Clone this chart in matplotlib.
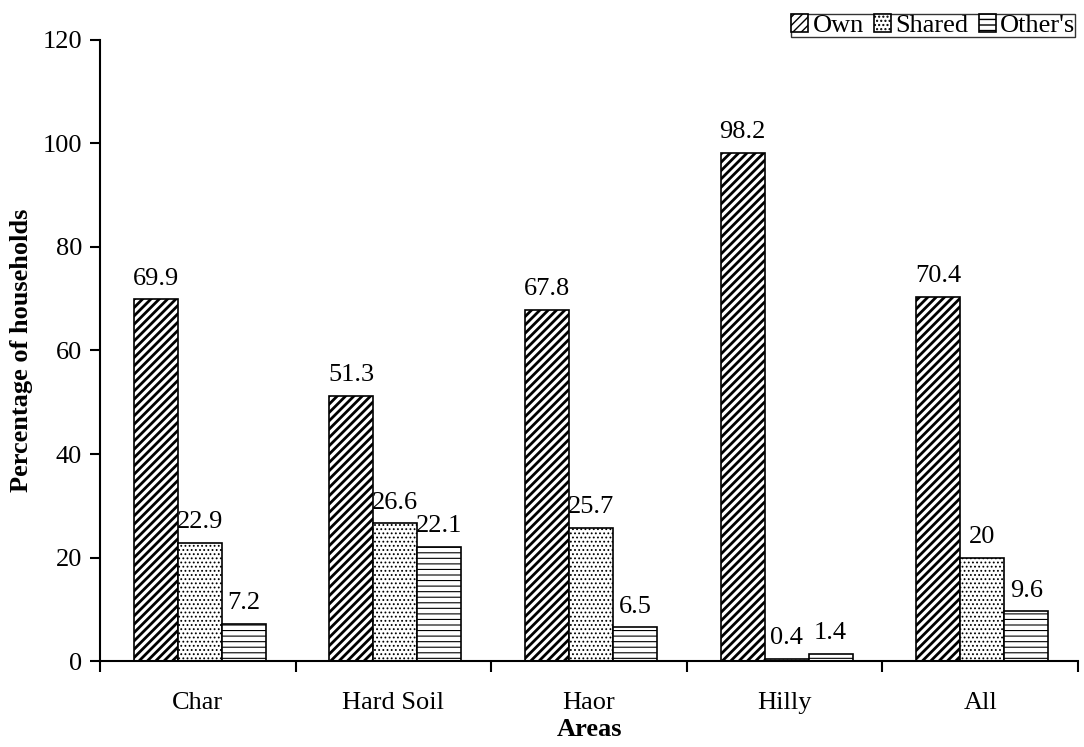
import numpy as np
import matplotlib.pyplot as plt
from matplotlib.ticker import FixedLocator, NullFormatter

plt.rcParams['font.family'] = ['Liberation Serif', 'DejaVu Serif']

# data
areas = ["Char", "Hard Soil", "Haor", "Hilly", "All"]
own = [69.9, 51.3, 67.8, 98.2, 70.4]
shared = [22.9, 26.6, 25.7, 0.4, 20]
others = [7.2, 22.1, 6.5, 1.4, 9.6]
series_names = ["Own", "Shared", "Other's"]

fs = 19

fig = plt.figure(figsize=(10.84, 7.47), dpi=100)
ax = fig.add_axes([0.0923, 0.1151, 0.9022, 0.8314])

x = np.arange(len(areas)) + 0.5
w = 0.225
styles = [("////", 2.0), ("....", 0.8), ("---", 0.8)]

for i, (vals, name) in enumerate(zip([own, shared, others], series_names)):
    hatch, hlw = styles[i]
    with plt.rc_context({'hatch.linewidth': hlw}):
        ax.bar(x + (i - 1) * w + 0.01, vals, w, color="white", edgecolor="black",
               linewidth=1.2, hatch=hatch, label=name)
    for xi, v in zip(x + (i - 1) * w + 0.01, vals):
        ax.annotate(f"{v:g}", (xi, v), xytext=(0, 7), textcoords="offset points",
                    ha="center", va="bottom", fontsize=fs)

ax.set_xlim(0, 5)
ax.set_ylim(0, 120)
ax.set_yticks(range(0, 121, 20))
ax.xaxis.set_major_locator(FixedLocator(np.arange(0, 6)))
ax.xaxis.set_major_formatter(NullFormatter())
ax.xaxis.set_minor_locator(FixedLocator(x))
ax.set_xticklabels(areas, minor=True)
ax.tick_params(axis="x", which="minor", length=0, pad=22, labelsize=fs)
ax.tick_params(axis="x", which="major", length=8, width=1.5, direction="out")
ax.tick_params(axis="y", length=7, width=1.5, direction="out", labelsize=fs, pad=6)

ax.spines["top"].set_visible(False)
ax.spines["right"].set_visible(False)
ax.spines["left"].set_linewidth(1.5)
ax.spines["bottom"].set_linewidth(1.5)

ax.set_xlabel("Areas", fontsize=fs, fontweight="bold", labelpad=3)
ax.set_ylabel("Percentage of households", fontsize=fs, fontweight="bold", labelpad=7)

leg = ax.legend(loc="lower right", bbox_to_anchor=(1.0, 1.0), ncol=3, fontsize=fs,
                frameon=True, fancybox=False, edgecolor="black", borderpad=0.0,
                handlelength=0.65, handleheight=0.65, handletextpad=0.15,
                columnspacing=0.4, borderaxespad=0.1)
leg.get_frame().set_linewidth(1.0)

plt.savefig("out.png", dpi=100)
